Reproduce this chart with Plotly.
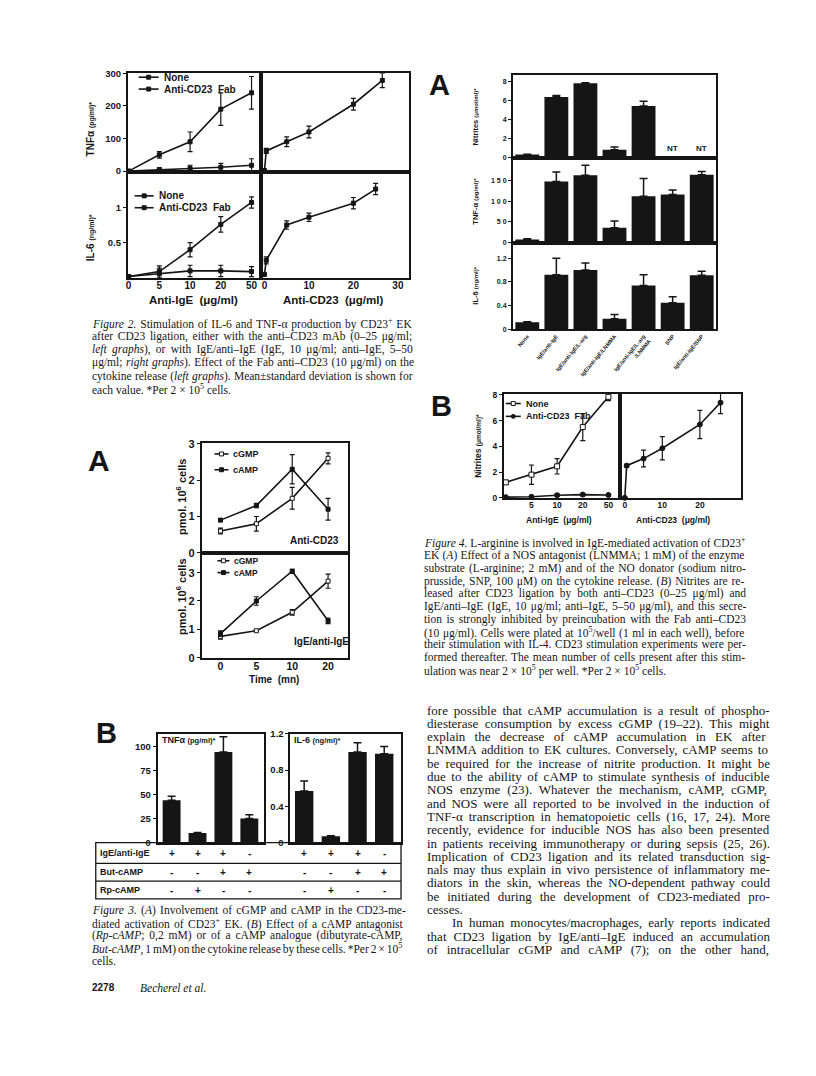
import re
import plotly.graph_objects as go

W, H = 816, 1076
SANS = "Liberation Sans, Arial, sans-serif"
SERIF = "Liberation Serif, Times New Roman, serif"
INK = "#151515"

# ---------- Figure 2 data ----------
ige_doses = ["0", "5", "10", "20", "50"]
tnf_ige_none = [0, 50, 90, 190, 240]
tnf_ige_none_sd = [0, 10, 30, 50, 50]
tnf_ige_fab = [0, 5, 8, 12, 18]
tnf_ige_fab_sd = [0, 4, 10, 12, 20]
il6_ige_none = [0.02, 0.09, 0.40, 0.76, 1.07]
il6_ige_none_sd = [0, 0.08, 0.10, 0.11, 0.08]
il6_ige_fab = [0.02, 0.06, 0.10, 0.10, 0.09]
il6_ige_fab_sd = [0, 0.08, 0.08, 0.08, 0.07]

cd23_doses = [0, 0.4, 5, 10, 20, 26.5]
tnf_cd23 = [2, 62, 90, 120, 205, 278]
tnf_cd23_sd = [0, 8, 15, 18, 18, 22]
il6_cd23_doses = [0, 0.4, 5, 10, 20, 25]
il6_cd23 = [0.05, 0.25, 0.75, 0.86, 1.06, 1.26]
il6_cd23_sd = [0, 0.05, 0.06, 0.06, 0.08, 0.08]

# ---------- Figure 3A data ----------
times = ["0", "5", "10", "20"]
cd23_cgmp = [0.6, 0.8, 1.5, 2.6]
cd23_cgmp_sd = [0.08, 0.2, 0.3, 0.15]
cd23_camp = [0.9, 1.3, 2.3, 1.2]
cd23_camp_sd = [0.03, 0.06, 0.4, 0.3]
ige_cgmp = [0.75, 0.95, 1.6, 2.7]
ige_cgmp_sd = [0.1, 0.03, 0.1, 0.25]
ige_camp = [0.85, 2.0, 3.05, 1.3]
ige_camp_sd = [0.1, 0.15, 0.07, 0.1]

# ---------- Figure 3B data ----------
conditions_3b = ["IgE/anti-IgE", "IgE/anti-IgE + Rp-cAMP", "IgE/anti-IgE + But-cAMP", "But-cAMP"]
tnf_3b = [44, 10, 94, 25]
tnf_3b_sd = [4, 0.5, 16, 4]
il6_3b = [0.57, 0.07, 1.0, 0.98]
il6_3b_sd = [0.11, 0.005, 0.1, 0.08]
table_rows = ["IgE/anti-IgE", "But-cAMP", "Rp-cAMP"]
table_signs = [["+", "+", "+", "-"], ["-", "-", "+", "+"], ["-", "+", "-", "-"]]

# ---------- Figure 4A data ----------
nos_groups = ["None", "IgE/anti-IgE", "IgE/anti-IgE/L-arg", "IgE/anti-IgE/LNMMA",
              "IgE/anti-IgE/L-arg<br>/LNMMA", "SNP", "IgE/anti-IgE/SNP"]
nitrites_4a = [0.3, 6.4, 7.85, 0.8, 5.45, None, None]
nitrites_4a_sd = [0.02, 0.15, 0.05, 0.3, 0.5, 0, 0]
tnf_4a = [7, 148, 163, 36, 112, 116, 164]
tnf_4a_sd = [2, 23, 24, 16, 43, 11, 8]
il6_4a = [0.12, 0.92, 1.0, 0.18, 0.74, 0.45, 0.91]
il6_4a_sd = [0.01, 0.28, 0.12, 0.07, 0.18, 0.1, 0.07]

# ---------- Figure 4B data ----------
nit_ige_none = [1.2, 1.8, 2.45, 5.5, 7.85]
nit_ige_none_sd = [0.15, 0.75, 0.6, 1.05, 0.3]
nit_ige_fab = [0.05, 0.08, 0.2, 0.25, 0.22]
nit_ige_fab_sd = [0.05, 0.08, 0.1, 0.1, 0.08]
nit_cd23_doses = [0, 0.5, 5, 10, 20, 25.5]
nit_cd23 = [0, 2.5, 3.05, 3.85, 5.7, 7.4]
nit_cd23_sd = [0, 0.1, 0.65, 0.9, 1.1, 0.85]

# Times metrics (per 1000 em), used to justify the text lines
TIMES = dict(zip(" ()*+,-./:;?", [250, 333, 333, 500, 564, 250, 333, 250, 278, 278, 278, 444]))
TIMES.update({d: 500 for d in "0123456789"})
TIMES.update(dict(zip("ABCDEFGHIJKLMNOPQRSTUVWXYZ",
                      [722, 667, 667, 722, 611, 556, 722, 722, 333, 389, 722, 611, 889,
                       722, 722, 556, 722, 667, 556, 611, 722, 722, 944, 722, 722, 611])))
TIMES.update(dict(zip("abcdefghijklmnopqrstuvwxyz",
                      [444, 500, 444, 500, 444, 333, 500, 500, 278, 278, 500, 278, 778,
                       500, 500, 500, 500, 333, 389, 278, 500, 500, 722, 500, 500, 444])))
TIMES.update({"–": 500, "±": 564, "×": 564, "μ": 520, "α": 520})

fig = go.Figure()
axes, notes, shapes = {}, [], []


def tf(size):
    return dict(family=SANS, size=size, color=INK, weight="bold")


def panel(n, left, right, top, bottom, xa, ya):
    s = "" if n == 1 else str(n)
    common = dict(showline=True, linecolor=INK, linewidth=1.6, mirror=True,
                  showgrid=False, zeroline=False, ticks="", ticklen=3,
                  tickwidth=1.2, tickcolor=INK, fixedrange=True)
    axes["xaxis" + s] = dict(common, domain=[left / W, right / W], anchor="y" + s, **xa)
    axes["yaxis" + s] = dict(common, domain=[1 - bottom / H, 1 - top / H], anchor="x" + s, **ya)
    return "x" + s, "y" + s


def curve(ax, x, y, sd, fill=INK, symbol="square", size=4):
    fig.add_trace(go.Scatter(
        x=x, y=y, xaxis=ax[0], yaxis=ax[1], mode="lines+markers",
        line=dict(color=INK, width=1.6),
        marker=dict(symbol=symbol, size=size, color=fill, line=dict(color=INK, width=1)),
        error_y=dict(type="data", array=sd, color=INK, thickness=1.2, width=2.5),
        cliponaxis=False, showlegend=False, hoverinfo="skip"))


def bars(ax, x, y, sd, width):
    fig.add_trace(go.Bar(
        x=x, y=y, xaxis=ax[0], yaxis=ax[1], width=width,
        marker=dict(color=INK, line=dict(width=0)),
        error_y=dict(type="data", symmetric=False, array=sd, arrayminus=[0] * len(sd),
                     color=INK, thickness=1.5, width=4),
        showlegend=False, hoverinfo="skip"))


def note(x, y, text, size=9, family=SANS, bold=True, anchor="left", angle=0, xref="paper"):
    notes.append(dict(x=x / W if xref == "paper" else x, y=1 - y / H, xref=xref, yref="paper",
                      text=text, showarrow=False, xanchor=anchor, yanchor="middle",
                      textangle=angle,
                      font=dict(family=family, size=size, color=INK,
                                weight="bold" if bold else "normal")))


def key(x0, x1, y, label, fill, symbol="square", size=9):
    yy = 1 - y / H
    shapes.append(dict(type="line", xref="paper", yref="paper", x0=x0 / W, x1=x1 / W,
                       y0=yy, y1=yy, line=dict(color=INK, width=1.6)))
    cx, r = (x0 + x1) / 2, 2
    shapes.append(dict(type="circle" if symbol == "circle" else "rect", xref="paper", yref="paper",
                       x0=(cx - r) / W, x1=(cx + r) / W, y0=1 - (y + r) / H, y1=1 - (y - r) / H,
                       fillcolor=fill, line=dict(color=INK, width=1)))
    note(x1 + 3, y, label, size)


def hline(x0, x1, y, width=1.3):
    shapes.append(dict(type="line", xref="paper", yref="paper", x0=x0 / W, x1=x1 / W,
                       y0=1 - y / H, y1=1 - y / H, line=dict(color=INK, width=width)))


def justified(line, size, width):
    plain = re.sub(r"<[^>]+>", "", line)
    gaps = plain.count(" ")
    if gaps == 0:
        return line
    natural = sum(TIMES.get(c, 500) for c in plain) * size / 1000
    extra = max(-1.0, min(6.0, (width - natural) / gaps))
    return "<span style='word-spacing:%.2fpx'>%s</span>" % (extra, line)


def text_block(lines, x, y0, step, size, right=None, last_ragged=True):
    for i, line in enumerate(lines):
        if right is not None and not (last_ragged and i == len(lines) - 1):
            line = justified(line, size, right - x)
        note(x, y0 + i * step, line, size, family=SERIF, bold=False)


# ================= Figure 2 =================
cat_x = dict(type="category", range=[-0.03, 4.32])
lin_x = dict(range=[-0.7, 32.5])
a1 = panel(1, 126, 260, 68, 168, dict(cat_x, showticklabels=False),
           dict(range=[-3, 300], tickvals=[0, 100, 200, 300], ticks="outside", tickfont=tf(9.5)))
a2 = panel(2, 260, 408, 68, 168, dict(lin_x, showticklabels=False),
           dict(range=[-3, 300], showticklabels=False))
a3 = panel(3, 126, 260, 168, 275, dict(cat_x, ticklabelstandoff=-3, tickfont=tf(10)),
           dict(range=[0, 1.5], tickvals=[0.5, 1], ticktext=["0.5", "1"], ticks="outside",
                tickfont=tf(9.5)))
a4 = panel(4, 260, 408, 168, 275, dict(lin_x, tickvals=[0, 10, 20, 30], ticklabelstandoff=-3,
                                       tickfont=tf(10)),
           dict(range=[0, 1.5], showticklabels=False))
curve(a1, ige_doses, tnf_ige_none, tnf_ige_none_sd)
curve(a1, ige_doses, tnf_ige_fab, tnf_ige_fab_sd)
curve(a2, cd23_doses, tnf_cd23, tnf_cd23_sd)
curve(a3, ige_doses, il6_ige_none, il6_ige_none_sd)
curve(a3, ige_doses, il6_ige_fab, il6_ige_fab_sd)
curve(a4, il6_cd23_doses, il6_cd23, il6_cd23_sd)
key(137, 157, 72, "None", INK, size=10)
key(137, 157, 84, "Anti-CD23  Fab", INK, size=10)
key(133, 152, 192, "None", INK, size=10)
key(133, 152, 204, "Anti-CD23  Fab", INK, size=10)
note(89, 124, "TNFα <span style='font-size:7px'>(pg/ml)*</span>", 10, anchor="center", angle=-90)
note(89, 234, "IL-6 <span style='font-size:7px'>(ng/ml)*</span>", 10, anchor="center", angle=-90)
note(192, 297, "Anti-IgE  (μg/ml)", 11.5, anchor="center")
note(332, 297, "Anti-CD23  (μg/ml)", 11.5, anchor="center")
text_block([
    "<i>Figure 2.</i> Stimulation of IL-6 and TNF-α production by CD23<sup>+</sup> EK",
    "after CD23 ligation, either with the anti–CD23 mAb (0–25 μg/ml;",
    "<i>left graphs</i>), or with IgE/anti–IgE (IgE, 10 μg/ml; anti–IgE, 5–50",
    "μg/ml; <i>right graphs</i>). Effect of the Fab anti–CD23 (10 μg/ml) on the",
    "cytokine release (<i>left graphs</i>). Mean±standard deviation is shown for",
    "each value. *Per 2 × 10<sup>5</sup> cells.",
], 88, 321, 13.3, 11.5, right=408)

# ================= Figure 3A =================
t_x = dict(type="category", range=[-0.53, 3.56])
a5 = panel(5, 200, 347, 442, 553, dict(t_x, showticklabels=False),
           dict(range=[0, 3.02], tickvals=[0, 1, 2, 3], ticks="outside", tickfont=tf(11)))
a6 = panel(6, 200, 347, 553, 659, dict(t_x, ticklabelstandoff=-2, tickfont=tf(10.5)),
           dict(range=[0, 3.7], tickvals=[0, 1, 2, 3], ticks="outside", tickfont=tf(11)))
curve(a5, times, cd23_cgmp, cd23_cgmp_sd, fill="white", size=4)
curve(a5, times, cd23_camp, cd23_camp_sd, size=4)
curve(a6, times, ige_cgmp, ige_cgmp_sd, fill="white", size=4)
curve(a6, times, ige_camp, ige_camp_sd, size=4)
key(213, 227, 453, "cGMP", "white", size=9)
key(213, 227, 469, "cAMP", INK, size=9)
key(216, 228, 561, "cGMP", "white", size=8.5)
key(216, 228, 573, "cAMP", INK, size=8.5)
note(313, 541, "Anti-CD23", 10, anchor="center")
note(320, 643, "IgE/anti-IgE", 10, anchor="center")
note(273, 681, "Time  (mn)", 10, anchor="center")
note(180, 497, "pmol. 10<sup>6</sup> cells", 11, anchor="center", angle=-90)
note(180, 598, "pmol. 10<sup>6</sup> cells", 11, anchor="center", angle=-90)
note(97, 460, "A", 30, anchor="center")

# ================= Figure 3B =================
a7 = panel(7, 156, 263, 736, 846, dict(type="category", range=[-0.54, 3.58], showticklabels=False),
           dict(range=[0, 113], tickvals=[0, 25, 50, 75, 100], ticks="outside", tickfont=tf(9.5)))
a8 = panel(8, 289, 400, 736, 846, dict(type="category", range=[-0.52, 3.63], showticklabels=False),
           dict(range=[0, 1.2], tickvals=[0, 0.4, 0.8, 1.2], ticktext=["0", "0.4", "0.8", "1.2"],
                ticks="outside", tickfont=tf(9.5)))
bars(a7, conditions_3b, tnf_3b, tnf_3b_sd, 0.69)
bars(a8, conditions_3b, il6_3b, il6_3b_sd, 0.69)
note(158, 742, "TNFα <span style='font-size:7.5px'>(pg/ml)*</span>", 9)
note(291, 742, "IL-6 <span style='font-size:7.5px'>(ng/ml)*</span>", 9)
note(105, 735, "B", 29, anchor="center")
shapes.append(dict(type="rect", xref="paper", yref="paper", x0=94 / W, x1=400 / W,
                   y0=1 - 903 / H, y1=1 - 846 / H, line=dict(color=INK, width=1.3)))
hline(94, 400, 867)
hline(94, 400, 885)
for r, (label, signs) in enumerate(zip(table_rows, table_signs)):
    y = [857, 876, 894][r]
    note(96, y, label, 9)
    for i, s in enumerate(signs):
        for ax in ("x7", "x8"):
            note(i, y, s, 10, anchor="center", xref=ax)
text_block([
    "<i>Figure 3.</i> (<i>A</i>) Involvement of cGMP and cAMP in the CD23-me-",
    "diated activation of CD23<sup>+</sup> EK. (<i>B</i>) Effect of a cAMP antagonist",
    "(<i>Rp-cAMP</i>; 0,2 mM) or of a cAMP analogue (dibutyrate-cAMP,",
    "<i>But-cAMP</i>, 1 mM) on the cytokine release by these cells. *Per 2 × 10<sup>5</sup>",
    "cells.",
], 88, 915, 12.7, 11.5, right=402)
note(88, 993, "2278", 10)
note(136, 993, "<i>Becherel et al.</i>", 11.5, family=SERIF, bold=False)

# ================= Figure 4A =================
g_x = dict(type="category", range=[-0.5, 6.5])
a9 = panel(9, 512, 716, 70, 154, dict(g_x, showticklabels=False),
           dict(range=[-0.1, 8.7], tickvals=[0, 2, 4, 6, 8], ticks="outside", tickfont=tf(7)))
a10 = panel(10, 512, 716, 154, 240, dict(g_x, showticklabels=False),
            dict(range=[-2, 204], tickvals=[0, 50, 100, 150], ticktext=["0", "5 0", "1 0 0", "1 5 0"],
                 ticks="outside", tickfont=tf(7)))
a11 = panel(11, 512, 716, 240, 327, dict(g_x, tickangle=-50, tickfont=tf(5.5)),
            dict(range=[0, 1.45], tickvals=[0, 0.4, 0.8, 1.2], ticktext=["0", "0.4", "0.8", "1.2"],
                 ticks="outside", tickfont=tf(7)))
bars(a9, nos_groups, nitrites_4a, nitrites_4a_sd, 0.82)
bars(a10, nos_groups, tnf_4a, tnf_4a_sd, 0.82)
bars(a11, nos_groups, il6_4a, il6_4a_sd, 0.82)
for i, v in enumerate(nitrites_4a):
    if v is None:
        notes.append(dict(x=i, y=0.2, xref="x9", yref="y9", text="NT", showarrow=False,
                          yanchor="bottom", font=dict(family=SANS, size=8, color=INK, weight="bold")))
note(475, 112, "Nitrites <span style='font-size:6px'>(μmol/ml)*</span>", 7.5, anchor="center", angle=-90)
note(475, 197, "TNF-α <span style='font-size:6px'>(pg/ml)*</span>", 7.5, anchor="center", angle=-90)
note(475, 283, "IL-6 <span style='font-size:6px'>(ng/ml)*</span>", 7.5, anchor="center", angle=-90)
note(439, 80, "A", 29, anchor="center")

# ================= Figure 4B =================
a12 = panel(12, 503, 620, 392, 498,
            dict(type="category", range=[-0.08, 4.47], tickvals=["5", "10", "20", "50"],
                 ticklabelstandoff=-2, tickfont=tf(8.5)),
            dict(range=[-0.05, 8.1], tickvals=[0, 2, 4, 6, 8], ticks="outside", tickfont=tf(8.5)))
a13 = panel(13, 620, 741, 392, 498,
            dict(range=[-1.15, 31], tickvals=[0, 10, 20], ticklabelstandoff=-2, tickfont=tf(8.5)),
            dict(range=[-0.05, 8.1], showticklabels=False))
curve(a12, ige_doses, nit_ige_none, nit_ige_none_sd, fill="white", size=5)
curve(a12, ige_doses, nit_ige_fab, nit_ige_fab_sd, symbol="circle", size=5)
curve(a13, nit_cd23_doses, nit_cd23, nit_cd23_sd, symbol="circle", size=5)
key(505, 520, 402, "None", "white", size=9)
key(505, 520, 415, "Anti-CD23  Fab", INK, symbol="circle", size=9)
note(477, 445, "Nitrites <span style='font-size:6.5px'>(μmol/ml)*</span>", 8.5, anchor="center", angle=-90)
note(558, 520, "Anti-IgE  (μg/ml)", 8.5, anchor="center")
note(673, 520, "Anti-CD23  (μg/ml)", 8.5, anchor="center")
note(441, 405, "B", 29, anchor="center")

text_block([
    "<i>Figure 4.</i> L-arginine is involved in IgE-mediated activation of CD23<sup>+</sup>",
    "EK (<i>A</i>) Effect of a NOS antagonist (LNMMA; 1 mM) of the enzyme",
    "substrate (L-arginine; 2 mM) and of the NO donator (sodium nitro-",
    "prusside, SNP, 100 μM) on the cytokine release. (<i>B</i>) Nitrites are re-",
    "leased after CD23 ligation by both anti–CD23 (0–25 μg/ml) and",
    "IgE/anti–IgE (IgE, 10 μg/ml; anti–IgE, 5–50 μg/ml), and this secre-",
    "tion is strongly inhibited by preincubation with the Fab anti–CD23",
    "(10 μg/ml). Cells were plated at 10<sup>5</sup>/well (1 ml in each well), before",
    "their stimulation with IL-4. CD23 stimulation experiments were per-",
    "formed thereafter. The mean number of cells present after this stim-",
    "ulation was near 2 × 10<sup>5</sup> per well. *Per 2 × 10<sup>5</sup> cells.",
], 421, 543, 12.9, 11.5, right=743)

body = [
    "fore possible that cAMP accumulation is a result of phospho-",
    "diesterase consumption by excess cGMP (19–22). This might",
    "explain the decrease of cAMP accumulation in EK after",
    "LNMMA addition to EK cultures. Conversely, cAMP seems to",
    "be required for the increase of nitrite production. It might be",
    "due to the ability of cAMP to stimulate synthesis of inducible",
    "NOS enzyme (23). Whatever the mechanism, cAMP, cGMP,",
    "and NOS were all reported to be involved in the induction of",
    "TNF-α transcription in hematopoietic cells (16, 17, 24). More",
    "recently, evidence for inducible NOS has also been presented",
    "in patients receiving immunotherapy or during sepsis (25, 26).",
    "Implication of CD23 ligation and its related transduction sig-",
    "nals may thus explain in vivo persistence of inflammatory me-",
    "diators in the skin, whereas the NO-dependent pathway could",
    "be initiated during the development of CD23-mediated pro-",
    "cesses.",
]
text_block(body, 424, 712, 13.45, 13, right=767)
text_block(["In human monocytes/macrophages, early reports indicated"],
           449, 712 + 16 * 13.45, 13.45, 13, right=767, last_ragged=False)
text_block([
    "that CD23 ligation by IgE/anti–IgE induced an accumulation",
    "of intracellular cGMP and cAMP (7); on the other hand,",
], 424, 712 + 17 * 13.45, 13.45, 13, right=767, last_ragged=False)

fig.update_layout(width=W, height=H, margin=dict(l=0, r=0, t=0, b=0),
                  paper_bgcolor="white", plot_bgcolor="white", showlegend=False,
                  annotations=notes, shapes=shapes, **axes)
fig.write_html("out.html", config={"displayModeBar": False},
               post_script="document.body.style.margin='0';document.body.style.overflow='hidden';")
